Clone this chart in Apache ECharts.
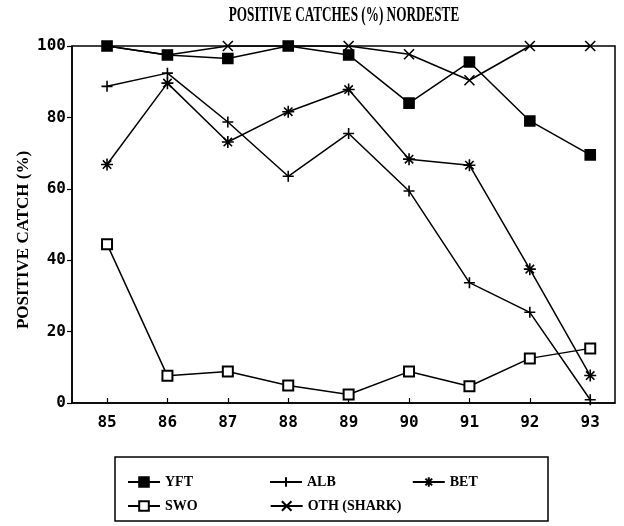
<!DOCTYPE html>
<html>
<head>
<meta charset="utf-8">
<script src="https://cdn.jsdelivr.net/npm/echarts@6/dist/echarts.min.js"></script>
<style>html,body{margin:0;padding:0;background:#fff;}#c{width:624px;height:526px;}</style>
</head>
<body>
<div id="c"></div>
<script>
var years = [85, 86, 87, 88, 89, 90, 91, 92, 93];
var yTicks = [0, 20, 40, 60, 80, 100];
var YFT = [100, 97.5, 96.5, 100, 97.5, 84, 95.5, 79, 69.5];
var ALB = [88.7, 92.4, 78.7, 63.5, 75.5, 59.4, 33.7, 25.4, 0.9];
var BET = [66.8, 89.6, 73.1, 81.6, 87.8, 68.3, 66.6, 37.5, 7.7];
var SWO = [44.5, 7.6, 8.8, 4.9, 2.4, 8.8, 4.7, 12.5, 15.3];
var OTH = [100, 97.5, 100, 100, 100, 97.7, 90.4, 100, 100];

function pairs(vals) { return years.map(function (y, i) { return [y, vals[i]]; }); }

var lineStyle = { color: '#000', width: 1.5 };
function mk(name, vals, symbol, size) {
  return {
    name: name, type: 'line', data: pairs(vals), symbol: symbol, symbolSize: size,
    lineStyle: lineStyle, itemStyle: { color: '#000', borderColor: '#000', borderWidth: 1.6 },
    emphasis: { disabled: true }, animation: false
  };
}

var legendText = { fontFamily: 'Liberation Serif', fontWeight: 'bold', fontSize: 14, color: '#000' };

var chart = echarts.init(document.getElementById('c'), null, { renderer: 'canvas' });
chart.setOption({
  backgroundColor: '#fff',
  animation: false,
  grid: { left: 72, right: 9, top: 46, bottom: 123, show: true, borderColor: '#000', borderWidth: 1.5 },
  xAxis: {
    type: 'value', min: 84.42, max: 93.41,
    axisLine: { lineStyle: { color: '#000', width: 1.5 } },
    axisTick: { inside: true, length: 5, customValues: years, lineStyle: { color: '#000', width: 1.2 } },
    axisLabel: { customValues: years, margin: 12, color: '#000', fontFamily: 'DejaVu Sans Mono', fontWeight: 'bold', fontSize: 16,
      formatter: function (v) { return String(Math.round(v)); } },
    splitLine: { show: false }
  },
  yAxis: {
    type: 'value', min: yTicks[0], max: yTicks[yTicks.length - 1], interval: 20,
    axisLine: { show: true, lineStyle: { color: '#000', width: 1.5 } },
    axisTick: { show: true, inside: false, length: 5, lineStyle: { color: '#000', width: 1.2 } },
    axisLabel: { margin: 6, color: '#000', fontFamily: 'DejaVu Sans Mono', fontWeight: 'bold', fontSize: 16 },
    splitLine: { show: false }
  },
  legend: [
    { data: ['YFT', 'ALB', 'BET'], left: 122, top: 470, itemGap: 76, itemWidth: 32, itemHeight: 12,
      textStyle: legendText, selectedMode: false },
    { data: ['SWO', 'OTH (SHARK)'], left: 122, top: 494, itemGap: 72, itemWidth: 32, itemHeight: 12,
      textStyle: legendText, selectedMode: false }
  ],
  graphic: [
    { type: 'text', x: 344, y: 16, scaleX: 0.66, silent: true,
      style: { text: 'POSITIVE CATCHES (%) NORDESTE', font: 'bold 20px "Liberation Serif"', align: 'center', verticalAlign: 'middle', fill: '#000' } },
    { type: 'text', x: 24, y: 240, rotation: Math.PI / 2, silent: true,
      style: { text: 'POSITIVE CATCH (%)', font: 'bold 17px "Liberation Serif"', align: 'center', verticalAlign: 'middle', fill: '#000' } },
    { type: 'rect', silent: true, shape: { x: 115, y: 457, width: 433, height: 64 },
      style: { fill: null, stroke: '#000', lineWidth: 1.5 } }
  ],
  series: [
    mk('OTH (SHARK)', OTH, 'path://M0,0L10,10M10,0L0,10', 10),
    mk('ALB', ALB, 'path://M5,0L5,10M0,5L10,5', 11),
    mk('BET', BET, 'path://M5,0L5,10M0,5L10,5M1.5,1.5L8.5,8.5M8.5,1.5L1.5,8.5', 12),
    mk('SWO', SWO, 'emptyRect', 10),
    mk('YFT', YFT, 'rect', 10)
  ]
});
</script>
</body>
</html>
